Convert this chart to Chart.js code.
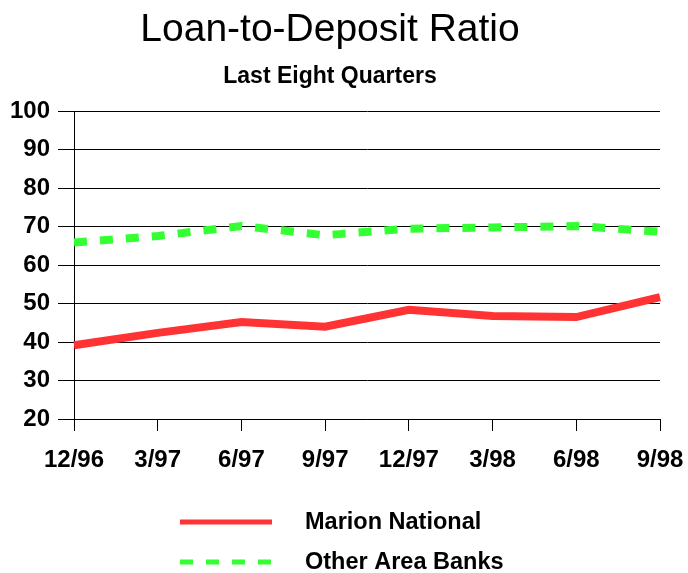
<!DOCTYPE html>
<html>
<head>
<meta charset="utf-8">
<script src="https://cdn.jsdelivr.net/npm/chart.js@4/dist/chart.umd.min.js"></script>
<style>
  html, body { margin: 0; padding: 0; background: #fff; }
  #wrap { width: 688px; height: 573px; }
</style>
</head>
<body>
<div id="wrap"><canvas id="chart"></canvas></div>
<script>
const quarters = ['12/96', '3/97', '6/97', '9/97', '12/97', '3/98', '6/98', '9/98'];
const marionNational = [39.2, 42.4, 45.2, 44.0, 48.4, 46.8, 46.5, 51.7];
const otherAreaBanks = [65.9, 67.6, 70.2, 67.8, 69.5, 69.8, 70.2, 68.7];

const FONT = '"Liberation Sans", Arial, Helvetica, sans-serif';

// legend drawn under the plot, one row per series
const stackedLegend = {
    id: 'stackedLegend',
    afterDraw(chart) {
        const ctx = chart.ctx;
        const rows = [522, 562];
        ctx.save();
        chart.data.datasets.forEach((ds, i) => {
            const y = rows[i];
            ctx.strokeStyle = ds.borderColor;
            ctx.lineWidth = 5;
            ctx.lineCap = 'butt';
            ctx.setLineDash(ds.borderDash || []);
            ctx.beginPath();
            ctx.moveTo(180, y);
            ctx.lineTo(272, y);
            ctx.stroke();
            ctx.setLineDash([]);
            ctx.fillStyle = '#000';
            ctx.font = 'bold 23.5px ' + FONT;
            ctx.textAlign = 'left';
            ctx.textBaseline = 'middle';
            ctx.fillText(ds.label, 305, y + 1);
        });
        ctx.restore();
    }
};

new Chart(document.getElementById('chart'), {
    type: 'line',
    data: {
        labels: quarters,
        datasets: [{
            label: 'Marion National',
            data: marionNational,
            borderColor: '#ff3333',
            borderWidth: 8,
            pointRadius: 0,
            tension: 0
        }, {
            label: 'Other Area Banks',
            data: otherAreaBanks,
            borderColor: '#33ff33',
            borderWidth: 8,
            borderDash: [13, 13],
            borderCapStyle: 'butt',
            pointRadius: 0,
            tension: 0
        }]
    },
    options: {
        responsive: true,
        maintainAspectRatio: false,
        animation: false,
        layout: { padding: { left: 0, right: 28, top: 0, bottom: 0 } },
        plugins: {
            legend: { display: false },
            tooltip: { enabled: false },
            title: {
                display: true,
                text: 'Loan-to-Deposit Ratio',
                color: '#000',
                font: { family: FONT, size: 39, weight: 'normal' },
                padding: { top: 7, bottom: 9 }
            },
            subtitle: {
                display: true,
                text: 'Last Eight Quarters',
                color: '#000',
                font: { family: FONT, size: 23, weight: 'bold' },
                padding: { top: 0, bottom: 21 }
            }
        },
        scales: {
            x: {
                offset: false,
                afterFit: s => { s.height = 154; s.paddingLeft = 0; s.paddingRight = 0; },
                grid: { display: true, drawOnChartArea: false, tickLength: 12, color: '#000' },
                border: { display: true, color: '#000', width: 1 },
                ticks: {
                    color: '#000',
                    padding: 15,
                    maxRotation: 0,
                    autoSkip: false,
                    font: { family: FONT, size: 24, weight: 'bold' }
                }
            },
            y: {
                min: 20,
                max: 100,
                afterFit: s => { s.width = 74; },
                grid: { color: '#000', lineWidth: 1, tickLength: 16 },
                border: { display: true, color: '#000', width: 1 },
                ticks: {
                    stepSize: 10,
                    color: '#000',
                    padding: 8,
                    font: { family: FONT, size: 24, weight: 'bold' }
                }
            }
        }
    },
    plugins: [stackedLegend]
});
</script>
</body>
</html>
